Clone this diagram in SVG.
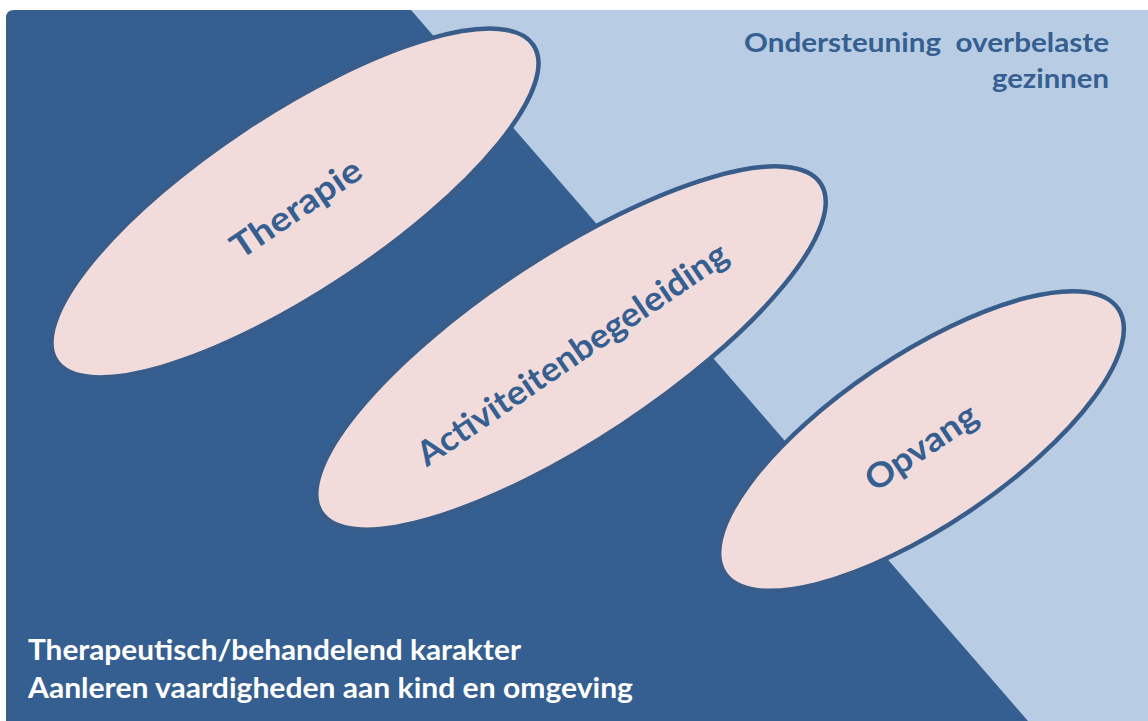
<svg xmlns="http://www.w3.org/2000/svg" width="1148" height="721" viewBox="0 0 1148 721">
<style>
.oval{fill:#F2DCDB;stroke:#385D8A;stroke-width:4.5}
.lbl{font-family:Lato,"Open Sans","Liberation Sans",sans-serif;font-weight:bold;fill:#365F91;text-anchor:middle}
.note{font-family:Lato,"Open Sans","Liberation Sans",sans-serif;font-weight:bold}
</style>
<rect x="0" y="0" width="1148" height="721" fill="#FFFFFF"/>
<g id="background">
<path d="M14,10 H1148 V721 H6 V18 Q6,10 14,10 Z" fill="#365F91"/>
<path d="M411,10 H1148 V721 H1028 Z" fill="#B8CCE4"/>
</g>
<g id="connectors"></g>
<g id="therapie">
<ellipse class="oval" cx="295" cy="203" rx="286" ry="89" transform="rotate(-33.5 295 203)"/>
<text class="lbl" x="296" y="220" font-size="34" textLength="150" lengthAdjust="spacingAndGlyphs" transform="rotate(-34 296 208)">Therapie</text>
</g>
<g id="activiteitenbegeleiding">
<ellipse class="oval" cx="571" cy="348" rx="299" ry="92" transform="rotate(-33.4 571 348)"/>
<text class="lbl" x="572" y="366" font-size="34" textLength="368" lengthAdjust="spacingAndGlyphs" transform="rotate(-34.3 572 354)">Activiteitenbegeleiding</text>
</g>
<g id="opvang">
<ellipse class="oval" cx="921.5" cy="441" rx="237" ry="85" transform="rotate(-33.9 921.5 441)"/>
<text class="lbl" x="921" y="459" font-size="34" textLength="128" lengthAdjust="spacingAndGlyphs" transform="rotate(-34 921 447)">Opvang</text>
</g>
<g id="top-right-label">
<text class="note" fill="#365F91" font-size="26" text-anchor="end" x="1109" y="52" textLength="365" lengthAdjust="spacingAndGlyphs" xml:space="preserve">Ondersteuning  overbelaste</text>
<text class="note" fill="#365F91" font-size="26" text-anchor="end" x="1109" y="88" textLength="117" lengthAdjust="spacingAndGlyphs">gezinnen</text>
</g>
<g id="bottom-left-label">
<text class="note" fill="#FFFFFF" font-size="28" x="28" y="660" textLength="493" lengthAdjust="spacingAndGlyphs">Therapeutisch/behandelend karakter</text>
<text class="note" fill="#FFFFFF" font-size="28" x="28" y="698" textLength="605" lengthAdjust="spacingAndGlyphs">Aanleren vaardigheden aan kind en omgeving</text>
</g>
</svg>
